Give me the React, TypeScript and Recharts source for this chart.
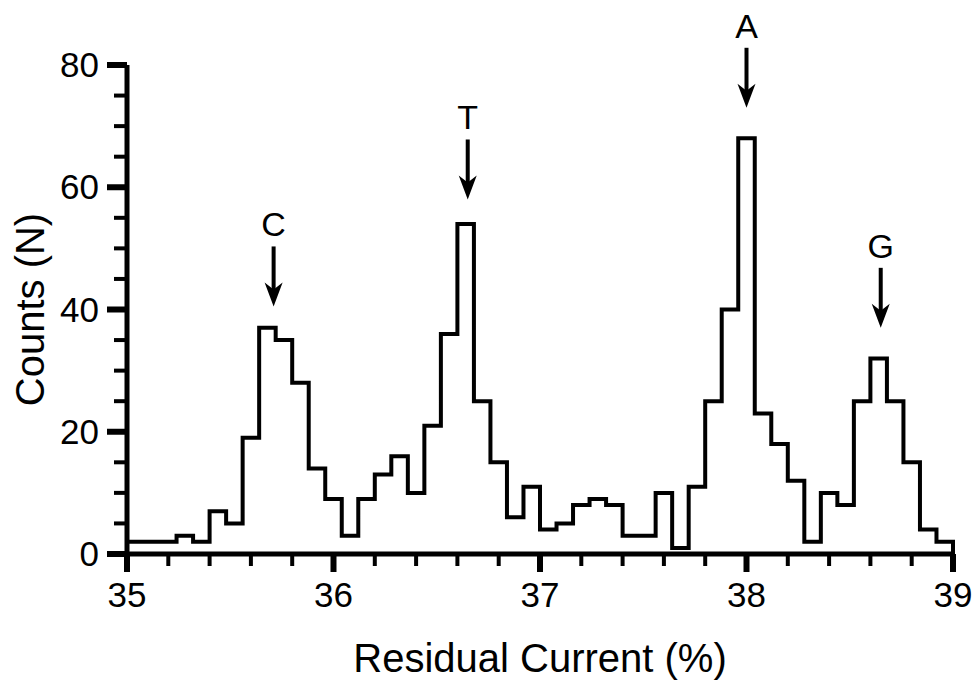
import {
  ComposedChart,
  Line,
  XAxis,
  YAxis,
  ReferenceDot,
} from 'recharts';

// histogram: 50 bins of width 0.08 from 35 to 39
const BIN_START = 35;
const BIN_WIDTH = 0.08;
const counts = [
  2, 2, 2, 3, 2, 7, 5, 19, 37, 35,
  28, 14, 9, 3, 9, 13, 16, 10, 21, 36,
  54, 25, 15, 6, 11, 4, 5, 8, 9, 8,
  3, 3, 10, 1, 11, 25, 40, 68, 23, 18,
  12, 2, 10, 8, 25, 32, 25, 15, 4, 2,
];

const xTicks = [
  35, 35.2, 35.4, 35.6, 35.8, 36, 36.2, 36.4, 36.6, 36.8, 37,
  37.2, 37.4, 37.6, 37.8, 38, 38.2, 38.4, 38.6, 38.8, 39,
];
const yTicks = [0, 5, 10, 15, 20, 25, 30, 35, 40, 45, 50, 55, 60, 65, 70, 75, 80];
const yLabelTicks = [0, 20, 40, 60, 80];

// peak markers (base letter, x of arrow, count at arrow tip)
const peakLabels = ['C', 'T', 'A', 'G'];
const peakX = [35.71, 36.65, 38.0, 38.65];
const peakTip = [40.5, 58, 73, 37];

const FONT = '"Liberation Sans", Arial, Helvetica, sans-serif';

const data = counts
  .map((c, i) => ({ x: +(BIN_START + i * BIN_WIDTH).toFixed(2), count: c }))
  .concat([{ x: +(BIN_START + counts.length * BIN_WIDTH).toFixed(2), count: 0 }]);

const XTick = ({ x, y, payload }: any) => {
  const major = Math.abs(payload.value - Math.round(payload.value)) < 1e-6;
  return (
    <g>
      <line
        x1={x}
        x2={x}
        y1={y}
        y2={y + (major ? 18 : 12)}
        stroke="#000"
        strokeWidth={major ? 6 : 4}
      />
      {major && (
        <text x={x} y={y + 53} textAnchor="middle" fontSize={35} fontFamily={FONT} fill="#000">
          {payload.value}
        </text>
      )}
    </g>
  );
};

const YTick = ({ x, y, payload }: any) => {
  const major = yLabelTicks.includes(payload.value);
  return (
    <g>
      <line
        x1={x}
        x2={x - (major ? 20 : 13)}
        y1={y}
        y2={y}
        stroke="#000"
        strokeWidth={major ? 6 : 4}
      />
      {major && (
        <text x={x - 28} y={y + 12} textAnchor="end" fontSize={35} fontFamily={FONT} fill="#000">
          {payload.value}
        </text>
      )}
    </g>
  );
};

const arrowShape = (letter: string) => ({ cx, cy }: any) => (
  <g>
    <text x={cx} y={cy - 70} textAnchor="middle" fontSize={34} fontFamily={FONT} fill="#000">
      {letter}
    </text>
    <line x1={cx} x2={cx} y1={cy - 60} y2={cy - 14} stroke="#000" strokeWidth={4} />
    <polygon
      points={`${cx},${cy} ${cx - 9},${cy - 24} ${cx},${cy - 17} ${cx + 9},${cy - 24}`}
      fill="#000"
    />
  </g>
);

const App = () => {
  return (
    <div style={{ position: 'absolute', left: 0, top: 0, background: '#fff' }}>
      <ComposedChart
        width={977}
        height={684}
        data={data}
        margin={{ top: 65, right: 24, bottom: 0, left: 0 }}
      >
        <XAxis
          dataKey="x"
          type="number"
          domain={[35, 39]}
          ticks={xTicks}
          interval={0}
          height={130}
          tickSize={0}
          tickMargin={0}
          tickLine={false}
          tick={<XTick />}
          axisLine={{ stroke: '#000', strokeWidth: 5 }}
          label={{
            value: 'Residual Current (%)',
            position: 'insideBottom',
            offset: 12,
            fontSize: 40,
            fontFamily: FONT,
            fill: '#000',
          }}
        />
        <YAxis
          type="number"
          domain={[0, 80]}
          ticks={yTicks}
          interval={0}
          width={127}
          tickSize={0}
          tickMargin={0}
          tickLine={false}
          tick={<YTick />}
          axisLine={{ stroke: '#000', strokeWidth: 5 }}
          label={{
            value: 'Counts (N)',
            angle: -90,
            position: 'insideLeft',
            offset: 30,
            fontSize: 40,
            fontFamily: FONT,
            fill: '#000',
            style: { textAnchor: 'middle' },
          }}
        />
        <Line
          type="stepAfter"
          dataKey="count"
          stroke="#000"
          strokeWidth={4}
          strokeLinejoin="miter"
          dot={false}
          activeDot={false}
          isAnimationActive={false}
        />
        {peakLabels.map((p, i) => (
          <ReferenceDot
            key={p}
            x={peakX[i]}
            y={peakTip[i]}
            ifOverflow="visible"
            shape={arrowShape(p)}
          />
        ))}
      </ComposedChart>
    </div>
  );
};

export default App;
